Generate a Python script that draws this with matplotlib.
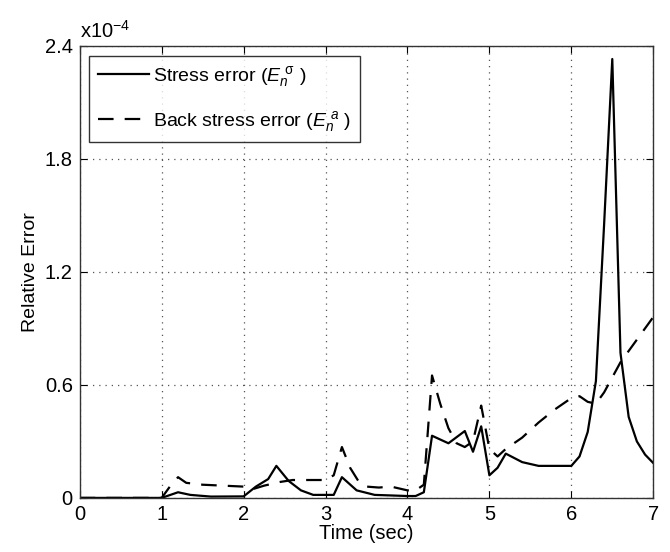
import numpy as np
import matplotlib
matplotlib.use("Agg")
import matplotlib.pyplot as plt

plt.rcParams['font.family'] = ['Liberation Sans', 'DejaVu Sans']
plt.rcParams['mathtext.fontset'] = 'custom'
plt.rcParams['mathtext.rm'] = 'Liberation Sans'
plt.rcParams['mathtext.it'] = 'Liberation Sans:italic'

# relative errors, in units of 1e-4
t_stress = [0, 1.0, 1.2, 1.35, 1.6, 2.0, 2.15, 2.3, 2.4, 2.55, 2.7, 2.85, 3.1, 3.2,
            3.38, 3.6, 4.0, 4.1, 4.2, 4.3, 4.5, 4.7, 4.8, 4.9, 5.0, 5.1, 5.2,
            5.4, 5.6, 6.0, 6.1, 6.2, 6.3, 6.4, 6.5, 6.6, 6.7, 6.8, 6.9, 7.0]
stress_err = [0, 0.0, 0.03, 0.016, 0.007, 0.008, 0.06, 0.10, 0.17, 0.09, 0.04, 0.016, 0.016, 0.11,
              0.04, 0.016, 0.01, 0.01, 0.03, 0.33, 0.29, 0.355, 0.245, 0.38, 0.12, 0.16, 0.235,
              0.19, 0.17, 0.17, 0.22, 0.35, 0.62, 1.45, 2.33, 0.77, 0.43, 0.30, 0.23, 0.185]

t_back = [0, 1.0, 1.1, 1.2, 1.3, 1.5, 2.0, 2.1, 2.25, 2.45, 2.6, 3.0, 3.1, 3.2, 3.3, 3.4,
          3.5, 3.65, 3.8, 4.0, 4.1, 4.2, 4.3, 4.4, 4.5, 4.6, 4.7, 4.8, 4.9, 5.0, 5.1,
          5.2, 5.4, 5.6, 5.8, 6.0, 6.1, 6.2, 6.3, 6.4, 6.5, 6.6, 6.8, 7.0]
back_err = [0, 0.0, 0.06, 0.11, 0.08, 0.07, 0.06, 0.045, 0.065, 0.085, 0.095, 0.095, 0.12, 0.27, 0.16, 0.09,
            0.06, 0.055, 0.06, 0.04, 0.04, 0.07, 0.65, 0.50, 0.37, 0.29, 0.27, 0.30, 0.49, 0.26, 0.22,
            0.26, 0.32, 0.40, 0.47, 0.53, 0.54, 0.51, 0.50, 0.56, 0.64, 0.72, 0.84, 0.96]

x_ticks = [0, 1, 2, 3, 4, 5, 6, 7]
y_ticks = [0, 0.6, 1.2, 1.8, 2.4]
y_labels = ['0', '0.6', '1.2', '1.8', '2.4']

fig = plt.figure(figsize=(6.7, 5.52), dpi=100)
ax = fig.add_axes([0.119, 0.098, 0.856, 0.819])

ax.plot(t_stress, stress_err, color='black', lw=1.6,
        label='Stress error ($E_n^{\\ \\mathrm{σ}}$ )')
ax.plot(t_back, back_err, color='black', lw=1.6, ls=(0, (7, 5)),
        label='Back stress error ($E_n^{\\ a}$ )')

ax.set_xlim(0, 7)
ax.set_ylim(0, 2.4)
ax.set_xticks(x_ticks)
ax.set_yticks(y_ticks)
ax.set_yticklabels(y_labels)
ax.tick_params(direction='in', top=True, right=True, labelsize=14.5, length=5, pad=5)
ax.grid(True, ls=(0, (1, 4)), color='#555555', lw=0.9)
for s in ax.spines.values():
    s.set_linewidth(1.0)
    s.set_color('#333333')

ax.set_xlabel('Time (sec)', fontsize=14.5, labelpad=0)
ax.set_ylabel('Relative Error', fontsize=14, labelpad=4)
ax.text(0.0, 1.008, 'x10$^{-4}$', transform=ax.transAxes, fontsize=14.5, va='bottom', ha='left')

leg = ax.legend(loc='upper left', fontsize=14, frameon=True, fancybox=False,
                edgecolor='black', handlelength=2.6, handletextpad=0.2,
                borderaxespad=0.5, labelspacing=1.0, borderpad=0.45)
leg.get_frame().set_linewidth(1.0)

fig.savefig('out.png', dpi=100)
